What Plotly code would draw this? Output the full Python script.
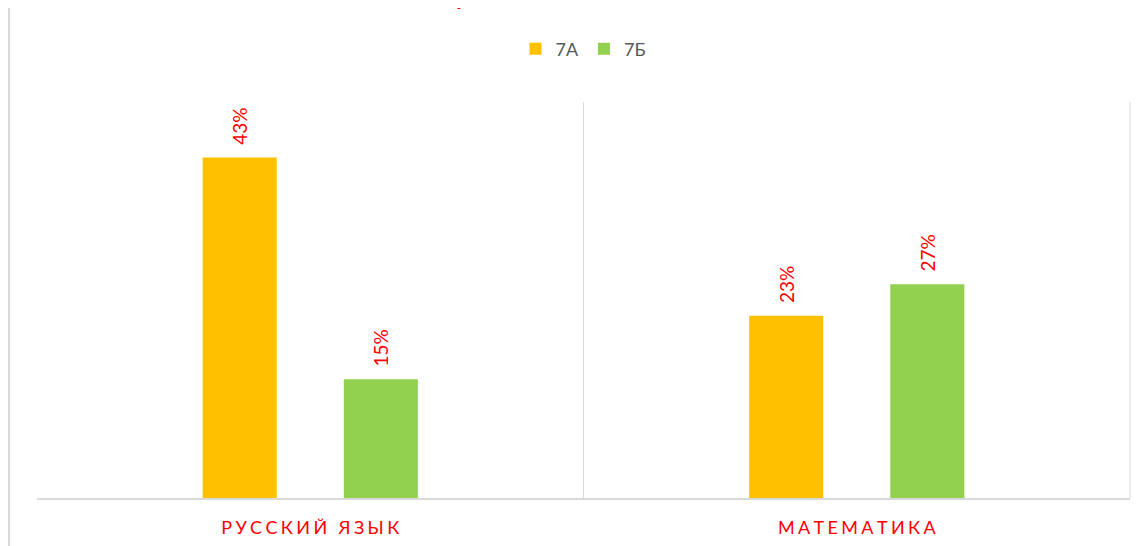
import plotly.graph_objects as go

categories = ["РУССКИЙ ЯЗЫК", "МАТЕМАТИКА"]
series_names = ["7А", "7Б"]
values_7a = [43, 23]
values_7b = [15, 27]
colors = ["#FFC000", "#92D050"]

def spaced(s):
    return "\u2009\u200a".join(list(s))

tick_labels = [spaced(c) for c in categories]

fig = go.Figure()
for name, vals, col in zip(series_names, [values_7a, values_7b], colors):
    fig.add_trace(go.Bar(
        name=name, x=categories, y=vals, marker=dict(color=col, line=dict(width=0)),
        texttemplate="\u00a0\u00a0%{y}%", textposition="outside", textangle=-90,
        textfont=dict(color="#FF0000", size=19, family="Lato"), cliponaxis=False,
    ))

fig.update_layout(
    width=1139, height=538,
    margin=dict(l=29, r=17, t=94, b=48, autoexpand=False),
    paper_bgcolor="white", plot_bgcolor="white",
    barmode="group", bargap=0.4835, bargroupgap=0.475,
    font=dict(family="Lato", color="#595959"),
    showlegend=True,
    legend=dict(orientation="h", x=0.5, xanchor="center", y=1.134, yanchor="middle",
                font=dict(size=18, color="#595959"), traceorder="normal",
                itemwidth=30),
    xaxis=dict(tickmode="array", tickvals=categories, ticktext=tick_labels,
               tickson="boundaries", showgrid=True, gridcolor="#d9d9d9", gridwidth=1,
               showline=True, linecolor="#d9d9d9", linewidth=2, ticks="",
               automargin=False, ticklabelstandoff=12,
               tickfont=dict(color="#FF0000", size=18, family="Lato")),
    yaxis=dict(range=[0, 50], showgrid=False, showticklabels=False, zeroline=False,
               showline=False, automargin=False),
)
fig.add_shape(type="line", xref="paper", yref="paper", x0=1, x1=1, y0=0, y1=1,
              line=dict(color="#d9d9d9", width=1))
fig.add_shape(type="line", xref="paper", yref="paper", x0=-0.0256, x1=-0.0256, y0=-0.15, y1=1.27,
              line=dict(color="#d9d9d9", width=2))
fig.add_annotation(text="<b>Результаты ВПР</b>", xref="paper", yref="paper",
                   x=0.346, xanchor="left", y=1.227, yanchor="bottom", showarrow=False,
                   font=dict(color="#FF0000", size=24, family="Lato"))
fig.write_html("out.html")
